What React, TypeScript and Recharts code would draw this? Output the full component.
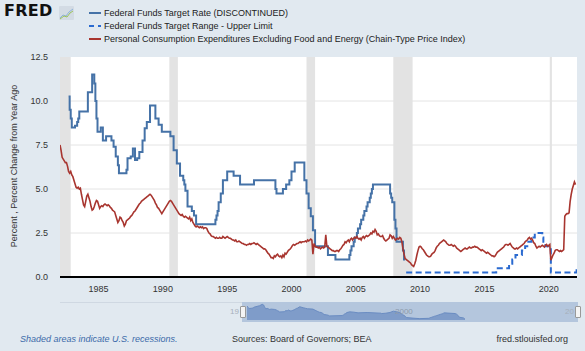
import React from "react"
import {
  ComposedChart,
  Line,
  XAxis,
  YAxis,
  CartesianGrid,
  ReferenceArea,
  AreaChart,
  Area,
} from "recharts"

// PCE excluding food and energy, percent change from year ago, monthly from Jan 1982
const pceStart = 1982
const pceCore = [
  7.5, 7.2, 6.8, 6.7, 6.6, 6.5, 6.5, 6.3, 6.0, 5.9, 6.0, 5.8, // 1982
  5.7, 5.5, 5.3, 5.1, 5.05, 5.1, 5.0, 5.05, 4.7, 4.4, 4.1, 4.0, // 1983
  4.3, 4.6, 4.7, 4.5, 4.3, 4.0, 3.8, 3.85, 4.0, 4.2, 4.35, 4.3, // 1984
  4.1, 3.9, 4.0, 4.05, 4.0, 4.1, 4.15, 4.1, 4.05, 4.1, 4.05, 3.95, // 1985
  3.9, 3.8, 3.75, 3.7, 3.5, 3.3, 3.1, 3.2, 3.4, 3.35, 3.2, 3.1, // 1986
  2.9, 3.0, 3.2, 3.25, 3.3, 3.35, 3.45, 3.5, 3.6, 3.7, 3.75, 3.85, // 1987
  3.95, 4.05, 4.15, 4.2, 4.3, 4.35, 4.4, 4.45, 4.5, 4.55, 4.6, 4.65, // 1988
  4.7, 4.65, 4.55, 4.45, 4.35, 4.2, 4.1, 3.95, 3.9, 3.8, 3.7, 3.6, // 1989
  3.7, 3.8, 3.9, 4.0, 4.1, 4.2, 4.3, 4.35, 4.3, 4.2, 4.1, 4.0, // 1990
  3.9, 3.8, 3.7, 3.6, 3.55, 3.5, 3.55, 3.45, 3.4, 3.45, 3.4, 3.35, // 1991
  3.3, 3.4, 3.2, 3.3, 3.1, 3.0, 2.9, 2.85, 2.9, 2.85, 2.8, 2.85, // 1992
  2.8, 2.85, 2.75, 2.8, 2.8, 2.75, 2.6, 2.5, 2.45, 2.35, 2.3, 2.3, // 1993
  2.25, 2.2, 2.25, 2.2, 2.2, 2.25, 2.2, 2.2, 2.3, 2.25, 2.2, 2.25, // 1994
  2.3, 2.25, 2.2, 2.2, 2.15, 2.1, 2.1, 2.05, 2.1, 2.0, 2.0, 2.05, // 1995
  2.0, 1.95, 1.9, 1.9, 1.85, 1.85, 1.8, 1.85, 1.85, 1.9, 1.85, 1.9, // 1996
  1.9, 1.95, 1.9, 1.85, 1.9, 1.85, 1.8, 1.75, 1.7, 1.65, 1.6, 1.6, // 1997
  1.55, 1.45, 1.35, 1.3, 1.2, 1.1, 1.1, 1.05, 1.2, 1.15, 1.25, 1.3, // 1998
  1.2, 1.15, 1.2, 1.1, 1.25, 1.15, 1.35, 1.3, 1.4, 1.5, 1.55, 1.6, // 1999
  1.7, 1.8, 1.85, 1.8, 1.85, 1.9, 1.9, 1.95, 2.0, 1.95, 2.0, 2.0, // 2000
  2.0, 2.05, 2.0, 2.1, 2.05, 2.1, 2.15, 2.1, 1.3, 1.9, 1.75, 1.7, // 2001
  1.7, 1.65, 1.7, 1.6, 1.65, 1.7, 1.65, 1.7, 2.4, 1.75, 1.7, 1.65, // 2002
  1.6, 1.55, 1.5, 1.5, 1.45, 1.45, 1.5, 1.5, 1.45, 1.55, 1.6, 1.7, // 2003
  1.8, 1.85, 2.0, 1.95, 2.05, 2.1, 2.0, 2.15, 2.2, 2.1, 2.2, 2.25, // 2004
  2.2, 2.3, 2.2, 2.15, 2.2, 2.1, 2.25, 2.3, 2.2, 2.3, 2.35, 2.3, // 2005
  2.35, 2.4, 2.5, 2.45, 2.6, 2.55, 2.7, 2.6, 2.4, 2.45, 2.35, 2.3, // 2006
  2.3, 2.35, 2.2, 2.1, 2.05, 2.1, 2.15, 2.2, 2.4, 2.35, 2.2, 2.3, // 2007
  2.2, 2.1, 2.15, 2.2, 2.15, 2.25, 2.2, 2.0, 1.6, 1.3, 1.05, 1.0, // 2008
  0.95, 0.9, 0.85, 0.8, 0.7, 0.65, 0.6, 0.75, 0.95, 1.25, 1.5, 1.7, // 2009
  1.75, 1.7, 1.6, 1.55, 1.45, 1.35, 1.25, 1.2, 1.15, 1.15, 1.2, 1.3, // 2010
  1.35, 1.4, 1.5, 1.65, 1.75, 1.8, 1.9, 1.95, 2.0, 2.05, 2.1, 2.05, // 2011
  2.0, 1.9, 1.85, 1.8, 1.8, 1.85, 1.8, 1.75, 1.8, 1.75, 1.65, 1.6, // 2012
  1.55, 1.5, 1.45, 1.5, 1.55, 1.6, 1.65, 1.6, 1.6, 1.65, 1.7, 1.65, // 2013
  1.65, 1.7, 1.7, 1.75, 1.7, 1.7, 1.65, 1.6, 1.55, 1.5, 1.55, 1.5, // 2014
  1.45, 1.4, 1.35, 1.4, 1.35, 1.3, 1.25, 1.2, 1.2, 1.15, 1.2, 1.3, // 2015
  1.4, 1.45, 1.5, 1.55, 1.6, 1.65, 1.7, 1.8, 1.85, 1.85, 1.8, 1.85, // 2016
  1.9, 1.8, 1.7, 1.65, 1.6, 1.6, 1.65, 1.6, 1.65, 1.7, 1.75, 1.8, // 2017
  1.85, 1.9, 2.0, 2.05, 2.1, 2.2, 2.25, 2.15, 2.2, 2.1, 1.95, 1.9, // 2018
  1.75, 1.65, 1.7, 1.75, 1.7, 1.75, 1.8, 1.75, 1.7, 1.8, 1.85, 1.75, // 2019
  1.8, 1.85, 0.95, 1.1, 1.25, 1.35, 1.5, 1.55, 1.55, 1.5, 1.45, 1.5, // 2020
  1.45, 1.5, 1.55, 3.45, 3.55, 3.6, 3.6, 3.65, 4.3, 4.7, 5.0, 5.2, // 2021
  5.4, 5.25, // 2022
]

// Federal funds target rate, value from each month where it changed
const fedTarget: [string, number][] = [
  ["1982-09", 10.25], ["1982-10", 9.5], ["1982-11", 9.0], ["1982-12", 8.5],
  ["1983-03", 8.6], ["1983-05", 8.8], ["1983-06", 9.0], ["1983-07", 9.4],
  ["1984-03", 10.5], ["1984-07", 11.5], ["1984-09", 11.0], ["1984-10", 10.0],
  ["1984-11", 9.0], ["1984-12", 8.25], ["1985-03", 8.5], ["1985-05", 7.75],
  ["1985-08", 8.0], ["1986-01", 7.75], ["1986-03", 7.4], ["1986-05", 6.85],
  ["1986-07", 6.35], ["1986-08", 5.9], ["1987-03", 6.1], ["1987-04", 6.75],
  ["1987-07", 6.85], ["1987-09", 7.3], ["1987-11", 6.65], ["1988-01", 6.75],
  ["1988-03", 7.1], ["1988-06", 7.75], ["1988-08", 8.45], ["1988-10", 8.8],
  ["1989-01", 9.75], ["1989-06", 9.0], ["1989-09", 8.65], ["1989-12", 8.25],
  ["1990-08", 8.0], ["1990-11", 7.2], ["1991-02", 6.45], ["1991-05", 5.75],
  ["1991-08", 5.5], ["1991-09", 5.25], ["1991-10", 4.9], ["1991-12", 4.0],
  ["1992-04", 3.75], ["1992-06", 3.5], ["1992-08", 3.0], ["1994-02", 3.25],
  ["1994-03", 3.5], ["1994-04", 3.75], ["1994-05", 4.25], ["1994-07", 4.75],
  ["1994-09", 5.5], ["1995-01", 6.0], ["1995-07", 5.75], ["1996-01", 5.25],
  ["1997-02", 5.5], ["1998-10", 5.0], ["1998-11", 4.75], ["1999-05", 5.0],
  ["1999-08", 5.25], ["1999-11", 5.5], ["2000-01", 6.0], ["2000-04", 6.5],
  ["2001-01", 5.5], ["2001-03", 4.75], ["2001-05", 3.9], ["2001-07", 3.45],
  ["2001-09", 2.65], ["2001-11", 1.75], ["2002-11", 1.25], ["2003-06", 1.0],
  ["2004-07", 1.25], ["2004-08", 1.5], ["2004-09", 1.75], ["2004-11", 2.0],
  ["2004-12", 2.25], ["2005-02", 2.5], ["2005-03", 2.75], ["2005-05", 3.0],
  ["2005-06", 3.25], ["2005-08", 3.5], ["2005-09", 3.75], ["2005-11", 4.0],
  ["2005-12", 4.25], ["2006-02", 4.5], ["2006-03", 4.75], ["2006-04", 5.0],
  ["2006-05", 5.25], ["2007-09", 4.75], ["2007-10", 4.5], ["2007-11", 4.25],
  ["2008-01", 3.25], ["2008-02", 2.75], ["2008-03", 2.0], ["2008-09", 1.5],
  ["2008-10", 1.0], ["2008-11", 1.0],
]

// Federal funds target range, upper limit
const fedUpper: [string, number][] = [
  ["2008-12", 0.25], ["2015-12", 0.5], ["2016-12", 0.75], ["2017-03", 1.0],
  ["2017-06", 1.25], ["2017-12", 1.5], ["2018-03", 1.75], ["2018-06", 2.0],
  ["2018-09", 2.25], ["2018-12", 2.5], ["2019-07", 2.25], ["2019-08", 2.0],
  ["2019-10", 1.75], ["2020-03", 0.25], ["2022-03", 0.5],
]

// NBER recessions: peak month to trough month
const recessions: [string, string][] = [
  ["1981-07", "1982-11"],
  ["1990-07", "1991-03"],
  ["2001-03", "2001-11"],
  ["2007-12", "2009-06"],
  ["2020-02", "2020-04"],
]

const yTicks = [0, 2.5, 5, 7.5, 10, 12.5]
const xTicks = [1985, 1990, 1995, 2000, 2005, 2010, 2015, 2020]

const toT = (s: string) => {
  const [y, m] = s.split("-").map(Number)
  return y + (m - 1) / 12
}

const pceData = pceCore.map((v, i) => ({ t: pceStart + i / 12, v }))
const targetData = fedTarget.map(([d, v]) => ({ t: toT(d), v }))
const upperData = fedUpper.map(([d, v]) => ({ t: toT(d), v }))

const FONT = "'Liberation Sans', Arial, sans-serif"

function LegendRow({ top, color, dashed, label }: { top: number; color: string; dashed?: boolean; label: string }) {
  return (
    <div style={{ position: "absolute", left: 88, top: top - 7, height: 14, display: "flex", alignItems: "center" }}>
      <svg width={14} height={4} style={{ marginRight: 2 }}>
        {dashed ? (
          <>
            <line x1={1} y1={2} x2={6} y2={2} stroke={color} strokeWidth={2} />
            <line x1={10} y1={2} x2={13} y2={2} stroke={color} strokeWidth={2} />
          </>
        ) : (
          <line x1={1} y1={2} x2={13} y2={2} stroke={color} strokeWidth={2} />
        )}
      </svg>
      <span style={{ fontSize: 9, color: "#222", whiteSpace: "nowrap" }}>{label}</span>
    </div>
  )
}

export default function App() {
  return (
    <div
      style={{
        position: "absolute",
        left: 0,
        top: 0,
        width: 585,
        height: 351,
        background: "#e1e9f0",
        overflow: "hidden",
        fontFamily: FONT,
      }}
    >
      {/* logo */}
      <div
        style={{
          position: "absolute",
          left: 4,
          top: 1,
          fontFamily: "'DejaVu Sans', sans-serif",
          fontWeight: 900,
          fontSize: 16,
          letterSpacing: 0.3,
          color: "#111",
        }}
      >
        FRED
      </div>
      <svg style={{ position: "absolute", left: 59, top: 6 }} width={15} height={14}>
        <rect x={0} y={0} width={15} height={14} rx={1} fill="#d3dbe4" />
        <polyline points="1,12 4,9 7,10 10,6 14,3" fill="none" stroke="#8fb3d9" strokeWidth={1} />
        <polyline points="1,13 5,10 8,11 11,7 14,5" fill="none" stroke="#9cc25a" strokeWidth={1} />
      </svg>

      <LegendRow top={12.5} color="#4572a7" label="Federal Funds Target Rate (DISCONTINUED)" />
      <LegendRow top={25.5} color="#2a6ad0" dashed label="Federal Funds Target Range - Upper Limit" />
      <LegendRow
        top={38.5}
        color="#a8352f"
        label="Personal Consumption Expenditures Excluding Food and Energy (Chain-Type Price Index)"
      />

      <div
        style={{
          position: "absolute",
          left: 14,
          top: 166,
          transform: "translate(-50%, -50%) rotate(-90deg)",
          fontSize: 9,
          color: "#333",
          whiteSpace: "nowrap",
        }}
      >
        Percent , Percent Change from Year Ago
      </div>

      {/* plot background */}
      <div style={{ position: "absolute", left: 60, top: 57, width: 517, height: 220, background: "#fff" }} />

      <div style={{ position: "absolute", left: 0, top: 0 }}>
        <ComposedChart width={585} height={351} margin={{ top: 57, right: 8, bottom: 44, left: 10 }}>
          <CartesianGrid vertical={false} stroke="#e4e4e4" horizontalValues={[2.5, 5, 7.5, 10]} />
          {recessions.map(([a, b]) => (
            <ReferenceArea
              key={a}
              x1={toT(a)}
              x2={toT(b)}
              fill="#e3e3e3"
              fillOpacity={1}
              stroke="none"
              ifOverflow="hidden"
            />
          ))}
          <XAxis
            dataKey="t"
            type="number"
            domain={[1982, 2022.2]}
            ticks={xTicks}
            allowDataOverflow
            tickLine={false}
            axisLine={{ stroke: "#000", strokeWidth: 2 }}
            tickMargin={3}
            tick={{ fill: "#333", fontSize: 9, fontFamily: FONT }}
            height={30}
          />
          <YAxis
            type="number"
            domain={[0, 12.5]}
            ticks={yTicks}
            tickFormatter={(v: number) => v.toFixed(1)}
            axisLine={false}
            tickLine={false}
            tickMargin={6}
            width={50}
            tick={{ fill: "#333", fontSize: 9, fontFamily: FONT }}
          />
          <Line
            data={targetData}
            dataKey="v"
            type="stepAfter"
            stroke="#4572a7"
            strokeWidth={2}
            dot={false}
            isAnimationActive={false}
          />
          <Line
            data={upperData}
            dataKey="v"
            type="stepAfter"
            stroke="#2a6ad0"
            strokeWidth={2}
            strokeDasharray="6 3.5"
            dot={false}
            isAnimationActive={false}
          />
          <Line
            data={pceData}
            dataKey="v"
            type="linear"
            stroke="#a8352f"
            strokeWidth={1.6}
            dot={false}
            isAnimationActive={false}
          />
        </ComposedChart>
      </div>

      {/* navigator */}
      <div style={{ position: "absolute", left: 60, top: 302, width: 518, height: 1, background: "#cfd8e2" }} />
      <div style={{ position: "absolute", left: 242, top: 302, width: 336, height: 20, background: "#b4c6dd" }} />
      <div style={{ position: "absolute", left: 247, top: 303, width: 218, height: 17 }}>
        <AreaChart width={218} height={17} data={targetData} margin={{ top: 0, right: 0, bottom: 0, left: 0 }}>
          <XAxis dataKey="t" type="number" domain={["dataMin", "dataMax"]} hide />
          <YAxis type="number" domain={[0, 12.5]} hide />
          <Area
            dataKey="v"
            type="linear"
            stroke="#6a8cc2"
            strokeWidth={1}
            fill="#7f9cc9"
            fillOpacity={1}
            isAnimationActive={false}
          />
        </AreaChart>
      </div>
      <div style={{ position: "absolute", right: 346, top: 307, fontSize: 8, color: "#a7b0bb" }}>19</div>
      <div style={{ position: "absolute", left: 395, top: 307, fontSize: 8, color: "#8d9aab" }}>2000</div>
      <div style={{ position: "absolute", right: 11, top: 307, fontSize: 8, color: "#a7b0bb" }}>20</div>
      <div
        style={{
          position: "absolute",
          left: 240,
          top: 306,
          width: 4,
          height: 10,
          background: "#f4f4f4",
          border: "1px solid #999",
          borderRadius: 1,
        }}
      />
      <div
        style={{
          position: "absolute",
          left: 575,
          top: 306,
          width: 4,
          height: 10,
          background: "#f4f4f4",
          border: "1px solid #999",
          borderRadius: 1,
        }}
      />

      {/* footer */}
      <div
        style={{
          position: "absolute",
          left: 20,
          top: 334,
          fontSize: 9,
          fontStyle: "italic",
          color: "#3b6aa9",
          whiteSpace: "nowrap",
        }}
      >
        Shaded areas indicate U.S. recessions.
      </div>
      <div style={{ position: "absolute", left: 232, top: 334, fontSize: 9, color: "#333", whiteSpace: "nowrap" }}>
        Sources: Board of Governors; BEA
      </div>
      <div style={{ position: "absolute", right: 17, top: 334, fontSize: 9, color: "#333", whiteSpace: "nowrap" }}>
        fred.stlouisfed.org
      </div>
    </div>
  )
}
